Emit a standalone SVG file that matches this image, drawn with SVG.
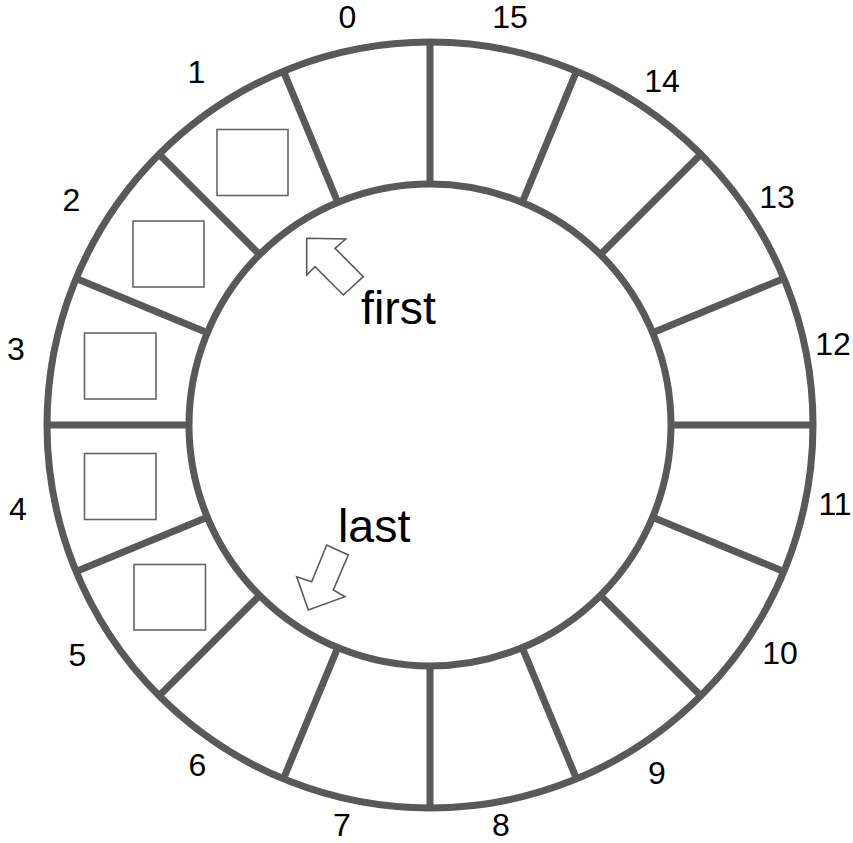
<svg xmlns="http://www.w3.org/2000/svg" width="853" height="843" viewBox="0 0 853 843">
<style>
.ring{fill:none;stroke:#595959;stroke-width:7}
.div{stroke:#595959;stroke-width:7;stroke-linecap:butt}
.box{fill:#fff;stroke:#666;stroke-width:1.6}
.arrow{fill:#fff;stroke:#5a5a5a;stroke-width:1.6;stroke-linejoin:miter}
.num{font-family:"Liberation Sans",Arial,sans-serif;font-size:32px;fill:#000;text-anchor:middle}
.lbl{font-family:"Liberation Sans",Arial,sans-serif;font-size:46.5px;fill:#000}
</style>
<rect width="853" height="843" fill="#fff"/>
<g id="ring">
<circle class="ring" cx="430" cy="425" r="383"/>
<circle class="ring" cx="430" cy="425" r="241"/>
</g>
<g id="dividers">
<line class="div" x1="430" y1="184" x2="430" y2="42"/>
<line class="div" x1="522.23" y1="202.34" x2="576.57" y2="71.15"/>
<line class="div" x1="600.41" y1="254.59" x2="700.82" y2="154.18"/>
<line class="div" x1="652.66" y1="332.77" x2="783.85" y2="278.43"/>
<line class="div" x1="671" y1="425" x2="813" y2="425"/>
<line class="div" x1="652.66" y1="517.23" x2="783.85" y2="571.57"/>
<line class="div" x1="600.41" y1="595.41" x2="700.82" y2="695.82"/>
<line class="div" x1="522.23" y1="647.66" x2="576.57" y2="778.85"/>
<line class="div" x1="430" y1="666" x2="430" y2="808"/>
<line class="div" x1="337.77" y1="647.66" x2="283.43" y2="778.85"/>
<line class="div" x1="259.59" y1="595.41" x2="159.18" y2="695.82"/>
<line class="div" x1="207.34" y1="517.23" x2="76.15" y2="571.57"/>
<line class="div" x1="189" y1="425" x2="47" y2="425"/>
<line class="div" x1="207.34" y1="332.77" x2="76.15" y2="278.43"/>
<line class="div" x1="259.59" y1="254.59" x2="159.18" y2="154.18"/>
<line class="div" x1="337.77" y1="202.34" x2="283.43" y2="71.15"/>
</g>
<g id="slot1"><rect class="box" x="217" y="129.5" width="71" height="66"/></g>
<g id="slot2"><rect class="box" x="133" y="221" width="71" height="66"/></g>
<g id="slot3"><rect class="box" x="84.5" y="333" width="71.5" height="66"/></g>
<g id="slot4"><rect class="box" x="84.5" y="453.5" width="71.5" height="66"/></g>
<g id="slot5"><rect class="box" x="134" y="564.5" width="71.5" height="65.5"/></g>
<g id="labels">
<text class="num" x="347.5" y="28">0</text>
<text class="num" x="196.5" y="83">1</text>
<text class="num" x="71.5" y="211">2</text>
<text class="num" x="16" y="360">3</text>
<text class="num" x="18" y="520">4</text>
<text class="num" x="77.5" y="666">5</text>
<text class="num" x="197.5" y="776">6</text>
<text class="num" x="342" y="835.5">7</text>
<text class="num" x="501" y="835.5">8</text>
<text class="num" x="657" y="784">9</text>
<text class="num" x="780" y="664">10</text>
<text class="num" x="835" y="515">11</text>
<text class="num" x="833" y="355">12</text>
<text class="num" x="777" y="208">13</text>
<text class="num" x="662" y="92">14</text>
<text class="num" x="510" y="28">15</text>
</g>
<g id="first">
<polygon class="arrow" points="306.7,238.3 345.7,239 335,248.3 363.3,276.7 343.3,295 315,266.7 306.7,275"/>
<text class="lbl" x="361" y="324">first</text>
</g>
<g id="last">
<polygon class="arrow" points="296.7,576.7 308.3,610 345,596.7 333.3,590 348.3,555 326.7,545 311.7,581.7"/>
<text class="lbl" x="338" y="542">last</text>
</g>
</svg>
